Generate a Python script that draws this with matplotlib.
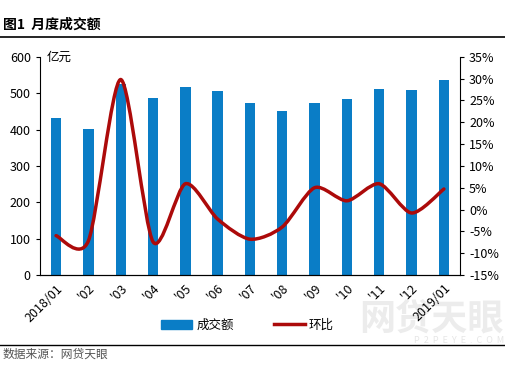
import numpy as np
import matplotlib
matplotlib.use('Agg')
from matplotlib import pyplot as plt
from matplotlib.path import Path
from matplotlib.patches import PathPatch, Patch
from matplotlib.lines import Line2D
from matplotlib.ticker import FuncFormatter

plt.rcParams['font.family'] = ['Noto Sans CJK SC', 'DejaVu Sans']

months = ['2018/01', "'02", "'03", "'04", "'05", "'06", "'07",
          "'08", "'09", "'10", "'11", "'12", '2019/01']
volume = [433, 402, 524, 488, 518, 507, 472, 452, 474, 485, 512, 509, 535]  # 亿元
mom = [-6.0, -7.2, 29.8, -7.4, 5.9, -2.2, -6.8, -4.0, 5.0, 2.0, 5.9, -0.8, 4.7]  # %

BLUE = '#0A7DC6'
RED = '#AC0A0A'

fig = plt.figure(figsize=(5.05, 3.84), dpi=100)
ax = fig.add_axes([0.079, 0.284, 0.832, 0.568])
x = np.arange(len(months))
ax.bar(x, volume, width=0.32, color=BLUE, zorder=2)
ax.set_xlim(-0.5, len(months) - 0.5)
ax.set_ylim(0, 600)
ax.set_yticks(range(0, 601, 100))
ax.set_xticks(x)
ax.set_xticklabels(months, rotation=45, ha='right', rotation_mode='anchor', fontsize=9)
ax.tick_params(axis='x', length=0, pad=5)
ax.tick_params(axis='y', labelsize=9, length=3, direction='out')
ax.spines['top'].set_visible(False)
ax.spines['right'].set_visible(False)
ax.text(-0.3, 600, '亿元', fontsize=9, va='center', ha='left')

ax2 = ax.twinx()
ax2.set_ylim(-15, 35)
ax2.set_yticks(range(-15, 36, 5))
ax2.yaxis.set_major_formatter(FuncFormatter(lambda v, p: '%d%%' % v))
ax2.tick_params(axis='y', labelsize=9, length=3, direction='out')
ax2.spines['top'].set_visible(False)
ax2.spines['left'].set_visible(False)

# smooth line like excel (catmull-rom -> bezier)
pts = np.column_stack([x, mom]).astype(float)
verts = [pts[0]]
codes = [Path.MOVETO]
n = len(pts)
k = 0.8 / 6.0
for i in range(n - 1):
    p0 = pts[max(i - 1, 0)]
    p1 = pts[i]
    p2 = pts[i + 1]
    p3 = pts[min(i + 2, n - 1)]
    c1 = p1 + (p2 - p0) * k
    c2 = p2 - (p3 - p1) * k
    verts += [c1, c2, p2]
    codes += [Path.CURVE4] * 3
ax2.add_patch(PathPatch(Path(verts, codes), fill=False, edgecolor=RED, lw=2.5,
                        capstyle='round', joinstyle='round', zorder=3))

# watermark (behind everything)
fig.text(0.998, 0.168, '网贷天眼', fontsize=26, fontweight='bold', color='#ececec',
         ha='right', va='center', zorder=-5)
fig.text(0.998, 0.113, 'P  2  P  E  Y  E  .  C  O  M', fontsize=6.5, color='#e6e6e6',
         ha='right', va='center', zorder=-5)

handles = [Patch(color=BLUE), Line2D([], [], color=RED, lw=2.5)]
fig.legend(handles, ['成交额', '环比'], loc='center', bbox_to_anchor=(0.49, 0.153),
           ncol=2, frameon=False, fontsize=9, handlelength=2.5, columnspacing=3.2,
           handletextpad=0.3)

# title and frame lines
fig.text(0.006, 0.935, '图1  月度成交额', fontsize=10, fontweight='bold', va='center')
fig.add_artist(Line2D([0.0, 1.0], [0.903, 0.903], color='black', lw=1.2))
fig.add_artist(Line2D([0.0, 1.0], [0.102, 0.102], color='black', lw=1.0))
fig.text(0.006, 0.078, '数据来源：网贷天眼', fontsize=8.5, color='#555555', va='center')

fig.savefig('out.png', dpi=100)
